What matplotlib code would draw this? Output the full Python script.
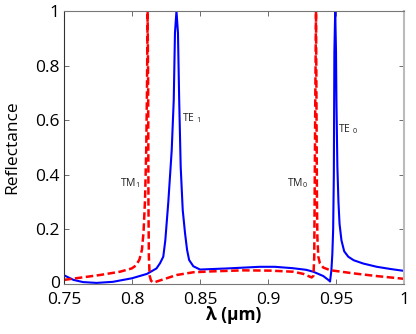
import numpy as np
import matplotlib
matplotlib.use('Agg')
import matplotlib.pyplot as plt
import matplotlib.transforms as mtransforms

plt.rcParams['font.family'] = ['Open Sans', 'DejaVu Sans']
plt.rcParams['mathtext.fontset'] = 'custom'
plt.rcParams['mathtext.rm'] = 'Open Sans'

# TE spectrum (solid blue)
lam_te = np.array([0.750, 0.757, 0.764, 0.774, 0.786, 0.800, 0.811, 0.818, 0.8206, 0.823,
                   0.8245, 0.8267, 0.8292, 0.8307, 0.8316, 0.8327, 0.8338, 0.8347, 0.8358,
                   0.8373, 0.8390, 0.8405, 0.8420, 0.8451, 0.850, 0.870, 0.894, 0.905, 0.918,
                   0.928, 0.9333, 0.9407, 0.9451, 0.9456, 0.9466, 0.9473, 0.9479, 0.9484,
                   0.9488, 0.9494, 0.9500, 0.9503, 0.9510, 0.9518, 0.9526, 0.9540, 0.9560,
                   0.9590, 0.9630, 0.9700, 0.9800, 0.9900, 1.000])
r_te = np.array([0.032, 0.015, 0.007, 0.004, 0.008, 0.021, 0.037, 0.057, 0.076, 0.10,
                 0.16, 0.30, 0.49, 0.674, 0.92, 1.0, 0.92, 0.674, 0.43,
                 0.271, 0.186, 0.125, 0.088, 0.065, 0.053, 0.057, 0.063, 0.063, 0.058,
                 0.052, 0.045, 0.029, 0.012, 0.009, 0.05, 0.11, 0.20, 0.40,
                 0.85, 1.0, 0.85, 0.674, 0.43, 0.30, 0.22, 0.16, 0.12,
                 0.10, 0.087, 0.075, 0.063, 0.055, 0.048])

# TM spectrum (dashed red)
lam_tm = np.array([0.750, 0.7618, 0.7765, 0.7912, 0.7998, 0.8030, 0.8055, 0.8073, 0.8085,
                   0.8096, 0.8105, 0.8110, 0.8115, 0.8119, 0.8121, 0.8124, 0.8130, 0.8140,
                   0.8157, 0.8230, 0.8329, 0.8451, 0.8574, 0.8818, 0.9015, 0.9186, 0.9260,
                   0.9321, 0.9334, 0.9340, 0.9344, 0.9348, 0.9353, 0.9357, 0.9360, 0.9363,
                   0.9370, 0.9382, 0.9407, 0.9450, 0.9480, 0.9627, 0.980, 1.000])
r_tm = np.array([0.015, 0.023, 0.033, 0.045, 0.057, 0.068, 0.090, 0.125, 0.19,
                 0.31, 0.5, 0.7, 1.0, 0.7, 0.3, 0.1, 0.03, 0.012,
                 0.005, 0.017, 0.033, 0.043, 0.046, 0.05, 0.049, 0.045, 0.037,
                 0.024, 0.03, 0.1, 0.4, 0.7, 1.0, 0.6, 0.3, 0.17,
                 0.10, 0.075, 0.06, 0.052, 0.049, 0.039, 0.029, 0.019])

# mode labels
labels = ['TM$_1$', 'TE ${}_1$', 'TM$_0$', 'TE ${}_0$']
label_x = [0.7912, 0.8365, 0.9140, 0.9515]
label_y = [0.37, 0.608, 0.37, 0.567]

xticks = [0.75, 0.8, 0.85, 0.9, 0.95, 1.0]
xticklabels = ['0.75', '0.8', '0.85', '0.9', '0.95', '1']
yticks = [0, 0.2, 0.4, 0.6, 0.8, 1.0]
yticklabels = ['0', '0.2', '0.4', '0.6', '0.8', '1']

fig = plt.figure(figsize=(4.16, 3.34), dpi=100)
ax = fig.add_axes([0.1538, 0.1497, 0.8174, 0.8173])

ax.plot(lam_te, r_te, color='#0000ff', lw=1.5)
ax.plot(lam_tm, r_tm, color='#ff0000', lw=1.8, dashes=(3, 1.4))

for t, x, y in zip(labels, label_x, label_y):
    ax.text(x, y, t, fontsize=7.5, color='#222222', va='center', ha='left')

ax.set_xlim(0.75, 1.0)
ax.set_ylim(0, 1)
ax.set_xticks(xticks)
ax.set_xticklabels(xticklabels)
ax.set_yticks(yticks)
ax.set_yticklabels(yticklabels)
ax.tick_params(direction='in', top=True, right=True, length=3.5, width=0.6,
               labelsize=12.5, color='#555555')
ax.tick_params(axis='x', pad=5.5)
ax.tick_params(axis='y', pad=3)
for s in ['top', 'bottom']:
    ax.spines[s].set_color('#777777')
ax.spines['left'].set_color('#333333')
ax.spines['right'].set_color('#bbbbbb')
ax.spines['right'].set_linewidth(1.5)

# nudge the "0" on the y axis up a touch so it clears "0.75"
zero_lab = ax.get_yticklabels()[0]
zero_lab.set_transform(zero_lab.get_transform() +
                       mtransforms.ScaledTranslation(0, 1.2 / 72, fig.dpi_scale_trans))

ax.set_xlabel('λ (μm)', fontsize=12.5, fontweight='bold', labelpad=-1)
ax.set_ylabel('Reflectance', fontsize=12.5, labelpad=11)

fig.savefig('out.png', dpi=100)
